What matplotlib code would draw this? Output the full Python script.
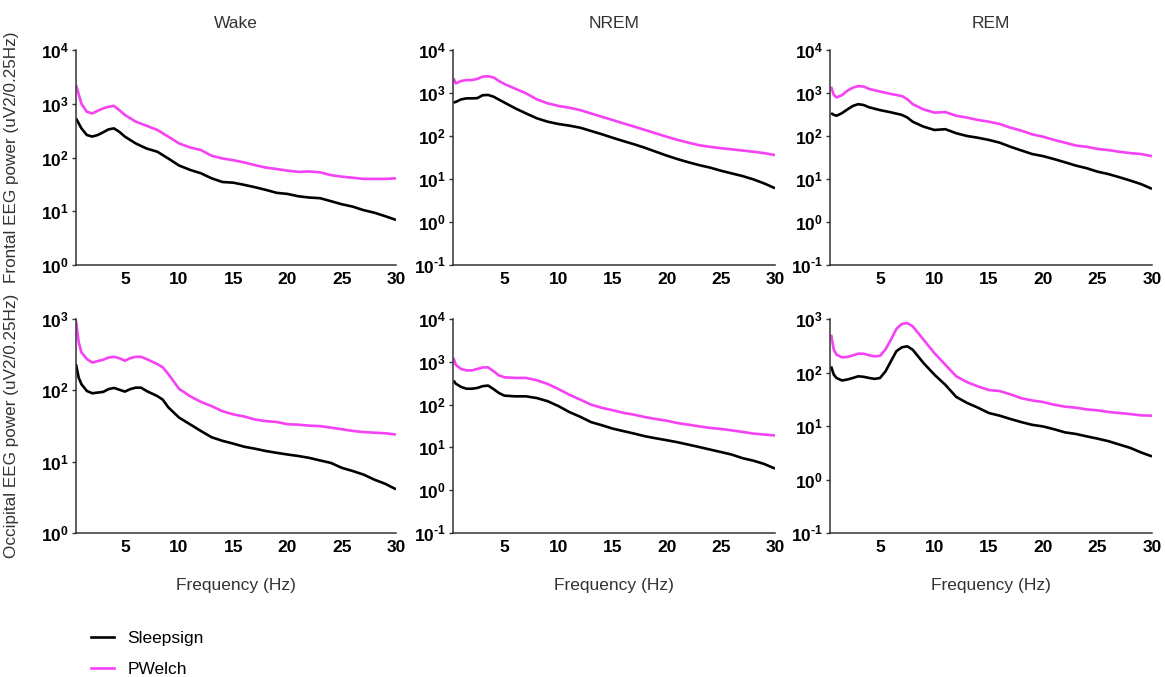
import matplotlib
matplotlib.use("Agg")
import matplotlib.pyplot as plt
from matplotlib.lines import Line2D

plt.rcParams['font.family'] = ['Liberation Sans', 'DejaVu Sans']
plt.rcParams['mathtext.fontset'] = 'custom'
plt.rcParams['mathtext.rm'] = 'Liberation Sans:bold'
plt.rcParams['mathtext.bf'] = 'Liberation Sans:bold'

states = ["Wake", "NREM", "REM"]
regions = ["Frontal", "Occipital"]
series_labels = ["Sleepsign", "PWelch"]
xtick_vals = [5, 10, 15, 20, 25, 30]

# ---- Frontal Wake ----
f_fw = [0.5, 1, 1.5, 2, 2.5, 3, 3.5, 4, 4.5, 5, 6, 7, 8, 9, 10, 11, 12, 13, 14, 15,
        16, 17, 18, 19, 20, 21, 22, 23, 24, 25, 26, 27, 28, 29, 30]
ss_fw = [535, 348, 262, 245, 262, 294, 334, 348, 300, 245, 183, 147, 128, 96, 71, 59, 51, 41, 35, 34,
         31, 28, 25, 22, 21, 19, 18, 17.5, 15.4, 13.5, 12.2, 10.5, 9.4, 8.1, 6.9]
pw_fw = [2240, 1000, 710, 660, 740, 820, 880, 910, 760, 620, 465, 390, 325, 245, 183, 154, 138, 108, 96, 89,
         81, 72, 65, 61, 57, 54, 55, 53, 47, 44, 42, 40, 40, 40, 41]

# ---- Frontal NREM ----
f_fn = [0.3, 0.5, 1, 1.5, 2, 2.5, 3, 3.5, 4, 4.5, 5, 6, 7, 8, 9, 10, 11, 12, 13, 14, 15,
        16, 17, 18, 19, 20, 21, 22, 23, 24, 25, 26, 27, 28, 29, 30]
ss_fn = [600, 620, 710, 750, 750, 760, 890, 900, 820, 700, 600, 440, 335, 258, 215, 190, 174, 156, 131, 110, 91,
         76, 64, 53, 43, 35, 29, 24.5, 21, 18.4, 15.6, 13.5, 11.7, 9.8, 7.9, 6.1]
pw_fn = [2190, 1670, 1900, 2000, 2000, 2130, 2400, 2450, 2300, 1900, 1620, 1260, 980, 710, 575, 500, 455, 400, 335, 280, 235,
         196, 165, 138, 115, 96, 81, 70, 61, 56, 52, 49, 46, 43, 40, 36]

# ---- Frontal REM ----
f_fr = [0.5, 0.75, 1, 1.5, 2, 2.5, 3, 3.5, 4, 5, 6, 7, 7.5, 8, 9, 10, 11, 12, 13, 14, 15,
        16, 17, 18, 19, 20, 21, 22, 23, 24, 25, 26, 27, 28, 29, 30]
ss_fr = [340, 310, 296, 340, 415, 500, 550, 525, 465, 400, 355, 310, 270, 215, 165, 138, 144, 116, 100, 91, 81,
         70, 56, 46, 38, 34, 29, 24.5, 20.5, 17.8, 14.8, 13, 11, 9.2, 7.6, 5.9]
pw_fr = [1400, 900, 790, 890, 1130, 1330, 1450, 1410, 1240, 1080, 950, 850, 720, 550, 415, 350, 360, 296, 268, 236, 215,
         190, 156, 133, 109, 96, 81, 70, 60, 56, 50, 47, 43, 40, 38, 34]

# ---- Occipital Wake ----
f_ow = [0.5, 0.75, 1, 1.5, 2, 2.5, 3, 3.5, 4, 4.5, 5, 5.5, 6, 6.5, 7, 8, 8.5, 9, 10, 11, 12, 13, 14, 15,
        16, 17, 18, 19, 20, 21, 22, 23, 24, 25, 26, 27, 28, 29, 30]
ss_ow = [232, 150, 122, 98, 91, 93, 95, 104, 108, 102, 96, 104, 109, 109, 98, 83, 74, 58, 41.5, 33.5, 27, 22, 19.6, 17.9,
         16.2, 15.2, 14.1, 13.3, 12.6, 12, 11.3, 10.4, 9.6, 8.2, 7.4, 6.6, 5.6, 4.9, 4.1]
pw_ow = [950, 470, 340, 275, 245, 257, 268, 288, 295, 282, 260, 282, 295, 295, 275, 233, 210, 170, 105, 83, 69, 60, 51, 46,
         43, 39, 37, 36, 33.5, 33, 32, 31.5, 30, 28.5, 27, 26, 25.5, 25, 24]

# ---- Occipital NREM ----
f_on = [0.3, 0.5, 1, 1.5, 2, 2.5, 3, 3.5, 4, 4.5, 5, 6, 7, 8, 9, 10, 11, 12, 13, 14, 15,
        16, 17, 18, 19, 20, 21, 22, 23, 24, 25, 26, 27, 28, 29, 30]
ss_on = [365, 310, 258, 235, 235, 245, 270, 278, 230, 186, 162, 156, 156, 142, 120, 92, 67, 52, 39, 33, 27.5,
         24, 21, 18.2, 16.3, 14.7, 13.2, 11.6, 10.2, 8.9, 7.8, 6.8, 5.6, 4.9, 4.1, 3.2]
pw_on = [1230, 850, 680, 630, 630, 680, 740, 740, 600, 480, 435, 420, 420, 370, 303, 230, 170, 131, 100, 84, 74,
         64, 58, 51, 46, 42, 37, 34, 31, 28.5, 27, 25, 23, 21, 20, 19]

# ---- Occipital REM ----
f_or = [0.5, 0.75, 1, 1.5, 2, 2.5, 3, 3.5, 4, 4.5, 5, 5.5, 6, 6.5, 7, 7.5, 8, 8.5, 9, 10, 11, 12, 13, 14, 15,
        16, 17, 18, 19, 20, 21, 22, 23, 24, 25, 26, 27, 28, 29, 30]
ss_or = [130, 91, 79, 71, 74, 79, 85, 83, 79, 76, 79, 105, 162, 250, 295, 309, 267, 200, 150, 91, 59, 35, 27, 22, 17.5,
         15.6, 13.5, 11.8, 10.5, 9.8, 8.7, 7.6, 7.1, 6.4, 5.8, 5.2, 4.5, 3.9, 3.2, 2.7]
pw_or = [510, 267, 215, 192, 195, 209, 225, 224, 210, 200, 205, 270, 410, 650, 810, 840, 730, 550, 410, 230, 140, 85, 66, 55, 47,
         45, 39, 33, 30, 28, 25, 23, 22, 20.4, 19.6, 18.3, 17.5, 16.7, 15.8, 15.6]

panel_data = [
    [(f_fw, ss_fw, pw_fw), (f_fn, ss_fn, pw_fn), (f_fr, ss_fr, pw_fr)],
    [(f_ow, ss_ow, pw_ow), (f_on, ss_on, pw_on), (f_or, ss_or, pw_or)],
]
ylims = [[(0, 4), (-1, 4), (-1, 4)],
         [(0, 3), (-1, 4), (-1, 3)]]
xmins = [0.5, 0.25, 0.4]

W, H = 1165, 677
fig = plt.figure(figsize=(W / 100, H / 100), dpi=100)

col_left = [76, 453, 830]
col_width = [320, 322, 322]
row_top = [50, 319]
row_height = [215, 214]

c_ss = "#000000"
c_pw = "#f542f5"
txt_col = "#333333"
fs_lab = 12.5
fs_tick = 12.5


def exp_label(k):
    if k < 0:
        return r'$\mathbf{10}^{\text{-%d}}$' % (-k)
    return r'$\mathbf{10^{%d}}$' % k


for r in range(2):
    for c in range(3):
        ax = fig.add_axes([col_left[c] / W, 1 - (row_top[r] + row_height[r]) / H,
                           col_width[c] / W, row_height[r] / H])
        f, ss, pw = panel_data[r][c]
        ax.plot(f, ss, color=c_ss, lw=1.9, solid_capstyle='butt')
        ax.plot(f, pw, color=c_pw, lw=1.9, solid_capstyle='butt')
        ax.set_yscale('log')
        lo, hi = ylims[r][c]
        ax.set_ylim(10.0 ** lo, 10.0 ** hi)
        ax.set_xlim(xmins[c], 30)
        yt = [10.0 ** k for k in range(lo, hi + 1)]
        ax.set_yticks(yt)
        ax.set_yticklabels([exp_label(k) for k in range(lo, hi + 1)])
        ax.minorticks_off()
        ax.set_xticks(xtick_vals)
        ax.set_xticklabels([str(v) for v in xtick_vals], fontweight='bold')
        ax.tick_params(axis='x', length=0, pad=5, labelsize=fs_tick)
        ax.tick_params(axis='y', length=3, width=1, pad=2, labelsize=fs_tick, color="#333333")
        for s in ['top', 'right']:
            ax.spines[s].set_visible(False)
        for s in ['left', 'bottom']:
            ax.spines[s].set_linewidth(1.1)
            ax.spines[s].set_color("#333333")
        if r == 0:
            ax.text(0.5, 1 + 27 / row_height[r], states[c], transform=ax.transAxes,
                    ha='center', va='center', fontsize=fs_lab, color=txt_col)
        if r == 1:
            ax.set_xlabel("Frequency (Hz)", fontsize=fs_lab, color=txt_col)
            ax.xaxis.set_label_coords(0.5, -45 / row_height[r])
        if c == 0:
            ax.set_ylabel(f"{regions[r]} EEG power (uV2/0.25Hz)", fontsize=12.3, color=txt_col)
            ax.yaxis.set_label_coords(-57 / col_width[c], 0.5)

handles = [Line2D([], [], color=c_ss, lw=1.9), Line2D([], [], color=c_pw, lw=1.9)]
fig.legend(handles, series_labels, loc='upper left', bbox_to_anchor=(91 / W, 1 - 631 / H),
           frameon=False, fontsize=fs_lab, handlelength=1.35, handletextpad=0.75,
           labelspacing=0.9, borderaxespad=0, borderpad=0)

fig.savefig("out.png", dpi=100)
